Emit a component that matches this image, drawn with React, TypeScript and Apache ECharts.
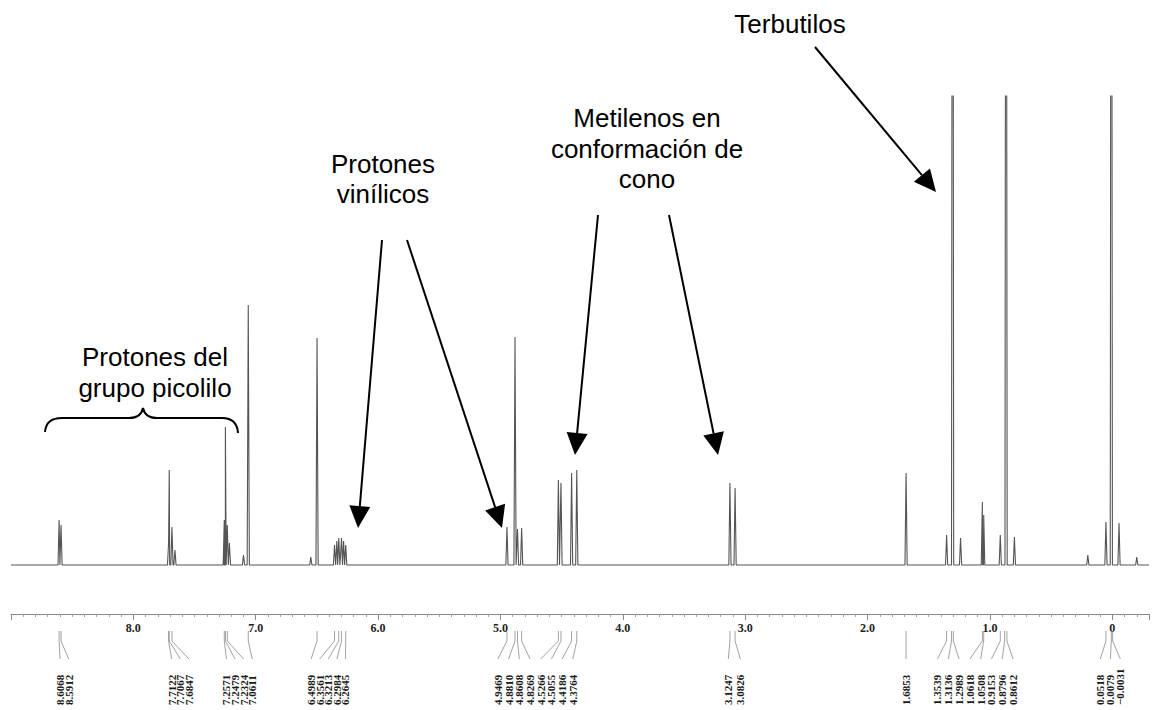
import React, { useEffect, useRef } from "react";
import * as echarts from "echarts";

// ---------- data (chemical shifts in ppm, peak heights in plot units) ----------
const PEAK_PPM = [
  8.6068, 8.5912, 7.7122, 7.7067, 7.6847, 7.66, 7.2571, 7.2479, 7.2324, 7.215, 7.1, 7.0611,
  6.55, 6.4989, 6.3561, 6.337, 6.3213, 6.2984, 6.282, 6.2645, 4.9469, 4.881, 4.8608, 4.8269,
  4.5266, 4.5055, 4.4186, 4.3764, 3.1247, 3.0826, 1.6853, 1.3539, 1.305, 1.24,
  1.0618, 1.0508, 0.9153, 0.868, 0.8, 0.2, 0.0518, 0.0079, -0.055, -0.2,
];
const PEAK_HEIGHT = [
  45, 40, 22, 95, 38, 15, 45, 138, 40, 22, 10, 260,
  8, 227, 20, 24, 27, 27, 24, 20, 38, 228, 36, 37,
  85, 82, 92, 95, 82, 77, 92, 30, 1200, 27,
  63, 50, 30, 1200, 28, 10, 43, 1200, 42, 8,
];

// peak-pick labels (groups as printed under the axis)
const LABEL_GROUPS = [
  [8.6068, 8.5912],
  [7.7122, 7.7067, 7.6847],
  [7.2571, 7.2479, 7.2324, 7.0611],
  [6.4989, 6.3561, 6.3213, 6.2984, 6.2645],
  [4.9469, 4.881, 4.8608, 4.8269, 4.5266, 4.5055, 4.4186, 4.3764],
  [3.1247, 3.0826],
  [1.6853],
  [1.3539, 1.3136, 1.2989, 1.0618, 1.0508, 0.9153, 0.8796, 0.8612],
  [0.0518, 0.0079, -0.0031],
];

// annotation texts
const TXT_TERBUTILOS = ["Terbutilos"];
const TXT_METILENOS = ["Metilenos en", "conformación de", "cono"];
const TXT_VINILICOS = ["Protones", "vinílicos"];
const TXT_PICOLILO = ["Protones del", "grupo picolilo"];

// ---------- layout (pixels / styles) ----------
const X_MIN = -0.3;
const X_MAX = 9.0;
const Y_MIN = -49;
const Y_MAX = 469;
const HALF_WIDTH = 0.009;
const LABEL_CENTER_PPM = [8.564, 7.616, 7.134, 6.407, 4.715, 3.089, 1.6853, 1.12, 0.016];
const LABEL_GAP = [8.6, 8.6, 8.6, 8.6, 10.7, 12, 0, 10.8, 10];

const fmtShift = (v: number) => (v < 0 ? "\u2212" + Math.abs(v).toFixed(4) : v.toFixed(4));

function buildSpectrum(): number[][] {
  const pts: number[][] = [[X_MAX, 0], [X_MIN, 0]];
  PEAK_PPM.forEach((p, i) => {
    pts.push([p + HALF_WIDTH, 0], [p, PEAK_HEIGHT[i]], [p - HALF_WIDTH, 0]);
  });
  pts.sort((a, b) => b[0] - a[0]);
  return pts;
}

function buildLabels(): number[][] {
  const out: number[][] = [];
  LABEL_GROUPS.forEach((g, gi) => {
    g.forEach((v, k) => {
      out.push([v, LABEL_CENTER_PPM[gi], k - (g.length - 1) / 2, LABEL_GAP[gi]]);
    });
  });
  return out;
}

const SANS = '"Liberation Sans", Arial, Helvetica, sans-serif';
const SERIF = '"Liberation Serif", "Times New Roman", serif';

function textLines(lines: string[], cx: number, firstBaseline: number, step: number) {
  return lines.map((t, i) => ({
    type: "text",
    x: cx,
    y: firstBaseline + i * step - 9,
    style: { text: t, font: `26px ${SANS}`, fill: "#000", align: "center", verticalAlign: "middle" },
    silent: true,
  }));
}

function arrow(sx: number, sy: number, tx: number, ty: number) {
  const dx = tx - sx;
  const dy = ty - sy;
  const len = Math.sqrt(dx * dx + dy * dy);
  const ux = dx / len;
  const uy = dy / len;
  const L = 22;
  const W = 10.5;
  const bx = tx - ux * L;
  const by = ty - uy * L;
  const nx = -uy;
  const ny = ux;
  return [
    {
      type: "line",
      shape: { x1: sx, y1: sy, x2: bx, y2: by },
      style: { stroke: "#000", lineWidth: 2 },
      silent: true,
    },
    {
      type: "polygon",
      shape: { points: [[tx, ty], [bx + nx * W, by + ny * W], [bx - nx * W, by - ny * W]] },
      style: { fill: "#000" },
      silent: true,
    },
  ];
}

let braceRegistered = false;
function registerBrace() {
  if (braceRegistered) return;
  const Brace = (echarts as any).graphic.extendPath(
    "M45,432 Q46,418 62,418 L129,418 Q141,418 143,408 Q145,418 157,418 L222,418 Q237,418 238,433",
    {}
  );
  (echarts as any).graphic.registerShape("brace", Brace);
  braceRegistered = true;
}

export default function App() {
  const ref = useRef<HTMLDivElement>(null);

  useEffect(() => {
    if (!ref.current) return;
    registerBrace();
    const chart = echarts.init(ref.current, undefined, { renderer: "svg" });
    const labelData = buildLabels();

    const option: any = {
      animation: false,
      backgroundColor: "#ffffff",
      grid: { left: 11, right: 4, top: 96, bottom: 96, containLabel: false },
      xAxis: {
        type: "value",
        min: X_MIN,
        max: X_MAX,
        inverse: true,
        minInterval: 1,
        maxInterval: 1,
        axisLine: { show: true, onZero: false, lineStyle: { color: "#8a8a8a", width: 1 } },
        axisTick: { show: true, length: 6, lineStyle: { color: "#8a8a8a", width: 1 } },
        minorTick: { show: true, splitNumber: 10, length: 3, lineStyle: { color: "#a0a0a0", width: 1 } },
        splitLine: { show: false },
        minorSplitLine: { show: false },
        axisLabel: {
          show: true,
          margin: 8,
          fontFamily: SERIF,
          fontWeight: "bold",
          fontSize: 12,
          color: "#222",
          showMinLabel: false,
          showMaxLabel: false,
          formatter: (v: number) => (Math.abs(v) < 1e-9 ? "0" : v.toFixed(1)),
        },
      },
      yAxis: {
        type: "value",
        min: Y_MIN,
        max: Y_MAX,
        show: false,
        splitLine: { show: false },
      },
      series: [
        {
          type: "line",
          data: buildSpectrum(),
          showSymbol: false,
          symbol: "none",
          clip: true,
          silent: true,
          lineStyle: { color: "#555", width: 1.1 },
        },
        {
          type: "custom",
          coordinateSystem: "cartesian2d",
          silent: true,
          clip: false,
          data: labelData,
          encode: { x: 0 },
          renderItem: (params: any, api: any) => {
            const shift = api.value(0);
            const center = api.value(1);
            const off = api.value(2);
            const gap = api.value(3);
            const px = api.coord([shift, 0])[0];
            const axisY = api.coord([shift, Y_MIN])[1];
            const cx = api.coord([center, 0])[0] + off * gap;
            const stroke = { stroke: "#8a8a8a", lineWidth: 0.8 };
            return {
              type: "group",
              children: [
                { type: "line", shape: { x1: px, y1: axisY + 17, x2: px, y2: axisY + 27 }, style: stroke },
                { type: "line", shape: { x1: px, y1: axisY + 27, x2: cx, y2: axisY + 45 }, style: stroke },
                {
                  type: "text",
                  x: cx,
                  y: axisY + 91,
                  rotation: Math.PI / 2,
                  style: {
                    text: fmtShift(shift),
                    font: `bold 11px ${SERIF}`,
                    fill: "#1a1a1a",
                    align: "left",
                    verticalAlign: "middle",
                  },
                },
              ],
            };
          },
        },
      ],
      graphic: [
        ...textLines(TXT_TERBUTILOS, 790, 33, 31),
        ...textLines(TXT_METILENOS, 647, 127, 30.5),
        ...textLines(TXT_VINILICOS, 383, 173, 30),
        ...textLines(TXT_PICOLILO, 155, 366, 31),
        ...arrow(815, 47, 936, 192),
        ...arrow(598, 215, 575, 455),
        ...arrow(669, 215, 718, 455),
        ...arrow(382, 240, 358, 528),
        ...arrow(407, 240, 502, 528),
        {
          type: "brace",
          x: 0,
          y: 0,
          style: { stroke: "#000", fill: "none", lineWidth: 2 },
          silent: true,
        },
      ],
    };

    chart.setOption(option);
    return () => {
      chart.dispose();
    };
  }, []);

  return (
    <div
      ref={ref}
      style={{ position: "fixed", left: 0, top: 0, width: 1153, height: 710, background: "#fff" }}
    />
  );
}
